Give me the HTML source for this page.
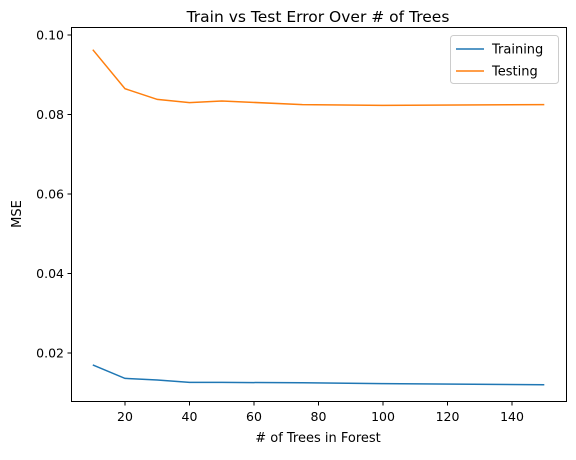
<!DOCTYPE html>
<html><head><meta charset="utf-8"><style>
body{margin:0;background:#fff;font-family:"Liberation Sans","DejaVu Sans",sans-serif;}
svg text{font-family:"DejaVu Sans","Liberation Sans",sans-serif;}
</style></head><body>
<svg id="chart" width="576" height="455">
<text x="318" y="22" font-size="15.5" text-anchor="middle" fill="#000">Train vs Test Error Over # of Trees</text>
<g id="axes"></g>
<g id="series"></g>
<rect x="71.5" y="27.5" width="495" height="374" fill="none" stroke="#000" stroke-width="1"/>
<text x="318" y="442" font-size="13" text-anchor="middle"># of Trees in Forest</text>
<text x="21" y="214" font-size="13" text-anchor="middle" transform="rotate(-90 21 214)">MSE</text>
<g>
<rect x="450.5" y="35.5" width="108" height="48" rx="3" fill="#fff" stroke="#ccc"/>
<line x1="456" y1="49" x2="484" y2="49" stroke="#1f77b4" stroke-width="1.5"/>
<text x="492" y="53.5" font-size="13">Training</text>
<line x1="456" y1="71" x2="484" y2="71" stroke="#ff7f0e" stroke-width="1.5"/>
<text x="492" y="75.5" font-size="13">Testing</text>
</g>
</svg>
<script>
const trees = [10, 20, 30, 40, 50, 75, 100, 150];
const trainingMSE = [0.0170, 0.0136, 0.0132, 0.0126, 0.0126, 0.0125, 0.0123, 0.0120];
const testingMSE = [0.0963, 0.0865, 0.0838, 0.0830, 0.0834, 0.0825, 0.0823, 0.0825];
const xTicks = [20, 40, 60, 80, 100, 120, 140];
const yTicks = [0.02, 0.04, 0.06, 0.08, 0.10];
const yTickLabels = ["0.02", "0.04", "0.06", "0.08", "0.10"];

const NS = "http://www.w3.org/2000/svg";
function xs(v){ return 125 + (v - 20) * (512 - 125) / 120; }
function ys(v){ return 353 - (v - 0.02) * (353 - 35) / 0.08; }
const axes = document.getElementById('axes');
function mk(tag, attrs, parent){ const e = document.createElementNS(NS, tag); for (const k in attrs) e.setAttribute(k, attrs[k]); parent.appendChild(e); return e; }
xTicks.forEach(t => {
  const g = mk('g', {}, axes);
  
  
  mk('line', {x1: xs(t), x2: xs(t), y1: 402, y2: 405.5, stroke: '#000'}, g);
  const tx = mk('text', {x: xs(t), y: 421, 'font-size': 12.5, 'text-anchor': 'middle'}, g);
  tx.textContent = t;
});
yTicks.forEach((t, i) => {
  const g = mk('g', {}, axes);
  
  
  mk('line', {x1: 67.5, x2: 71, y1: ys(t), y2: ys(t), stroke: '#000'}, g);
  const tx = mk('text', {x: 64, y: ys(t) + 4.5, 'font-size': 12.5, 'text-anchor': 'end'}, g);
  tx.textContent = yTickLabels[i];
});
const series = document.getElementById('series');
function line(vals, color, name){
  const d = vals.map((v, i) => (i ? 'L' : 'M') + xs(trees[i]).toFixed(1) + ' ' + ys(v).toFixed(1)).join(' ');
  const p = mk('path', {d: d, fill: 'none', stroke: color, 'stroke-width': 1.5}, series);
  
  
}
line(trainingMSE, '#1f77b4', 'training-line');
line(testingMSE, '#ff7f0e', 'testing-line');
</script>
</body></html>
